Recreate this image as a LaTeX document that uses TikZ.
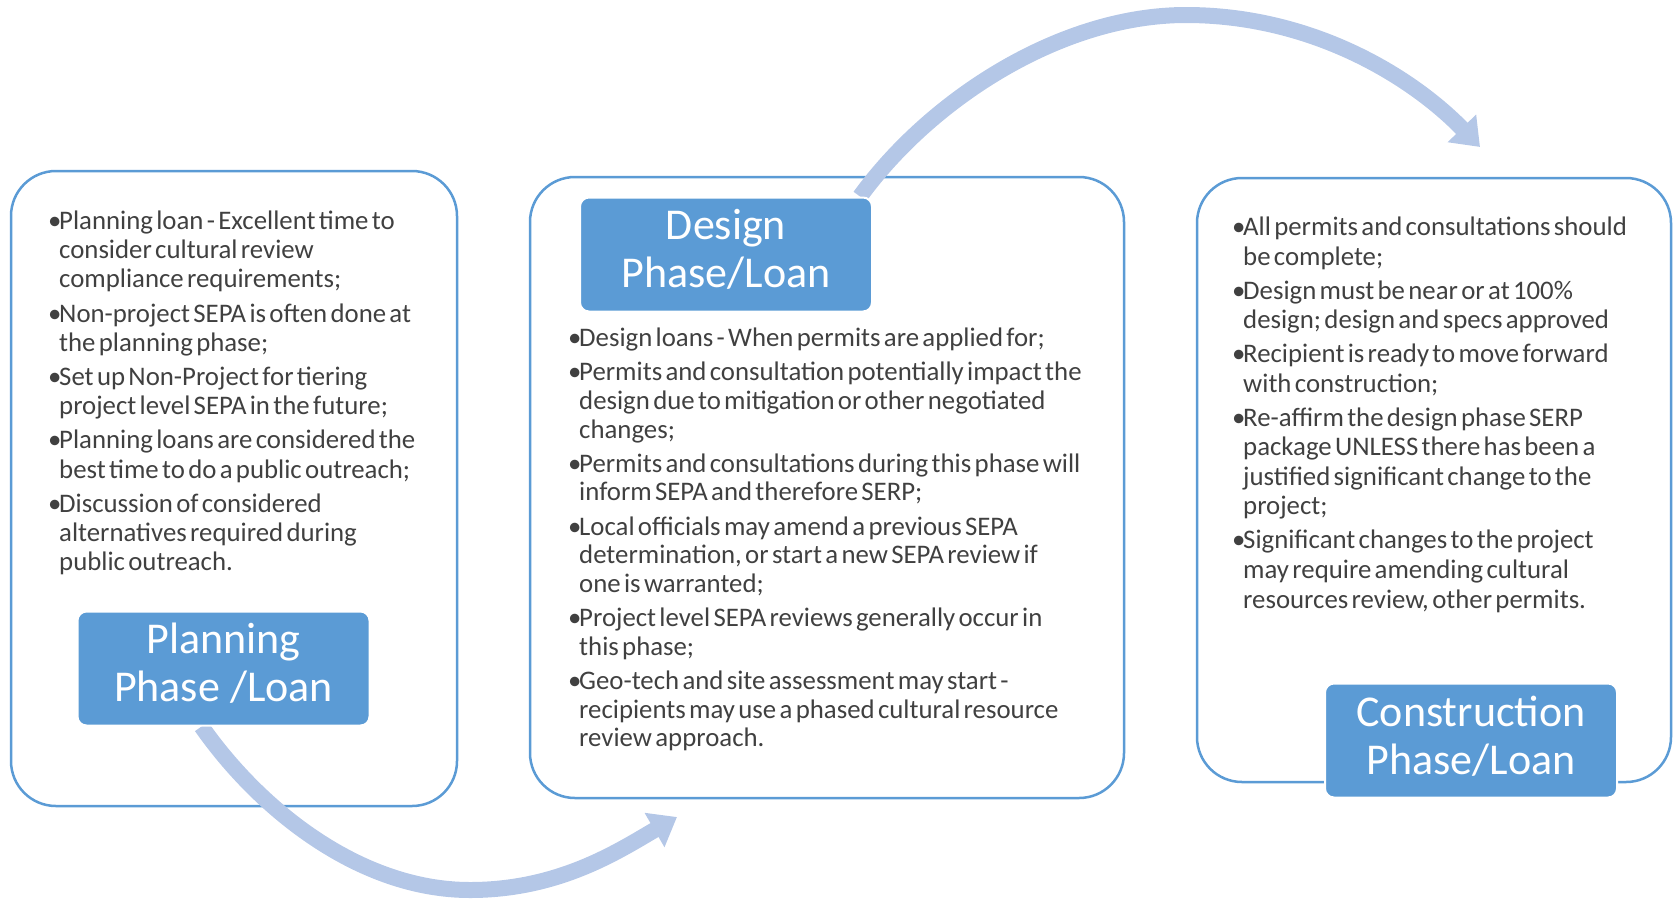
\documentclass[tikz,border=0pt]{standalone}
\usepackage{fontspec}
\setmainfont{Carlito}
\usetikzlibrary{arrows.meta}
\definecolor{boxblue}{HTML}{5B9BD5}
\definecolor{arrowblue}{HTML}{B4C7E7}
\definecolor{bodygray}{HTML}{404040}
\newcommand\blt{\par\hangindent=11pt\hangafter=1\noindent\makebox[11pt][l]{\textbullet}}
\pgfdeclarelayer{bg}
\pgfdeclarelayer{mid}
\pgfsetlayers{bg,mid,main}

\begin{document}
\begin{tikzpicture}[x=1pt,y=-1pt,
	phasebox/.style={draw=boxblue,line width=2.5pt,rounded corners=45pt},
	header/.style={draw=white,line width=2pt,fill=boxblue,rounded corners=9pt,minimum width=292pt,minimum height=114pt,inner sep=0pt},
	headtext/.style={text=white,align=center,font=\fontsize{44}{48}\selectfont,inner sep=0pt},
	bullets/.style={anchor=north west,inner sep=0pt,text width=#1,align=left,text=bodygray},
	flow/.style={arrowblue,line width=16pt,-{Triangle[width=38pt,length=26pt]}}]
			\useasboundingbox (0,0) rectangle (1673,898);
			\node [header] (pl) at (223.5,668.5) {};
			\node [headtext] (pllabel) at ([yshift=5pt]pl) {Planning\\Phase /Loan};
			\node [header] (ds) at (726,254.5) {};
			\node [headtext] (dslabel) at ([yshift=5pt]ds) {Design\\Phase/Loan};
			\node [header] (cn) at (1471,740.5) {};
			\node [headtext] (cnlabel) at ([yshift=4pt]cn) {Construction\\Phase/Loan};
			\node [bullets=440pt] (pltext) at (48,195) {\fontsize{26.8}{29.3}\selectfont\parskip=4.8pt
				\blt Planning loan - Excellent time to\newline consider cultural review\newline compliance requirements;
				\blt Non-project SEPA is often done at\newline the planning phase;
				\blt Set up Non-Project for tiering\newline project level SEPA in the future;
				\blt Planning loans are considered the\newline best time to do a public outreach;
				\blt Discussion of considered\newline alternatives required during\newline public outreach.\par};
			\node [bullets=580pt] (dstext) at (568,312) {\fontsize{26.8}{28.6}\selectfont\parskip=5.7pt
				\blt Design loans - When permits are applied for;
				\blt Permits and consultation potentially impact the\newline design due to mitigation or other negotiated\newline changes;
				\blt Permits and consultations during this phase will\newline inform SEPA and therefore SERP;
				\blt Local officials may amend a previous SEPA\newline determination, or start a new SEPA review if\newline one is warranted;
				\blt Project level SEPA reviews generally occur in\newline this phase;
				\blt Geo-tech and site assessment may start -\newline recipients may use a phased cultural resource\newline review approach.\par};
			\node [bullets=430pt] (cntext) at (1232,201.5) {\fontsize{26.8}{29.6}\selectfont\parskip=4.3pt
				\blt All permits and consultations should\newline be complete;
				\blt Design must be near or at 100\%\newline design; design and specs approved
				\blt Recipient is ready to move forward\newline with construction;
				\blt Re-affirm the design phase SERP\newline package UNLESS there has been a\newline justified significant change to the\newline project;
				\blt Significant changes to the project\newline may require amending cultural\newline resources review, other permits.\par};
			\begin{pgfonlayer}{bg}
			\draw [phasebox] (11,171) rectangle (457,806);
			\draw [phasebox] (530,177) rectangle (1124,798);
			\draw [phasebox] (1197,178) rectangle (1671,782);
			\end{pgfonlayer}
			\begin{pgfonlayer}{mid}
			\coordinate (dtip) at (677,817);
			\coordinate (ctip) at (1480,147);
			\draw [flow] ([xshift=-22pt]pl.south) .. controls (260,810) and (360,890) .. (470,890) .. controls (560,890) and (620,850) .. (dtip);
			\draw [flow] ([xshift=134pt]ds.north) .. controls (930,100) and (1060,15) .. (1186,15) .. controls (1310,15) and (1410,75) .. (ctip);
			\end{pgfonlayer}
		\end{tikzpicture}
\end{document}
